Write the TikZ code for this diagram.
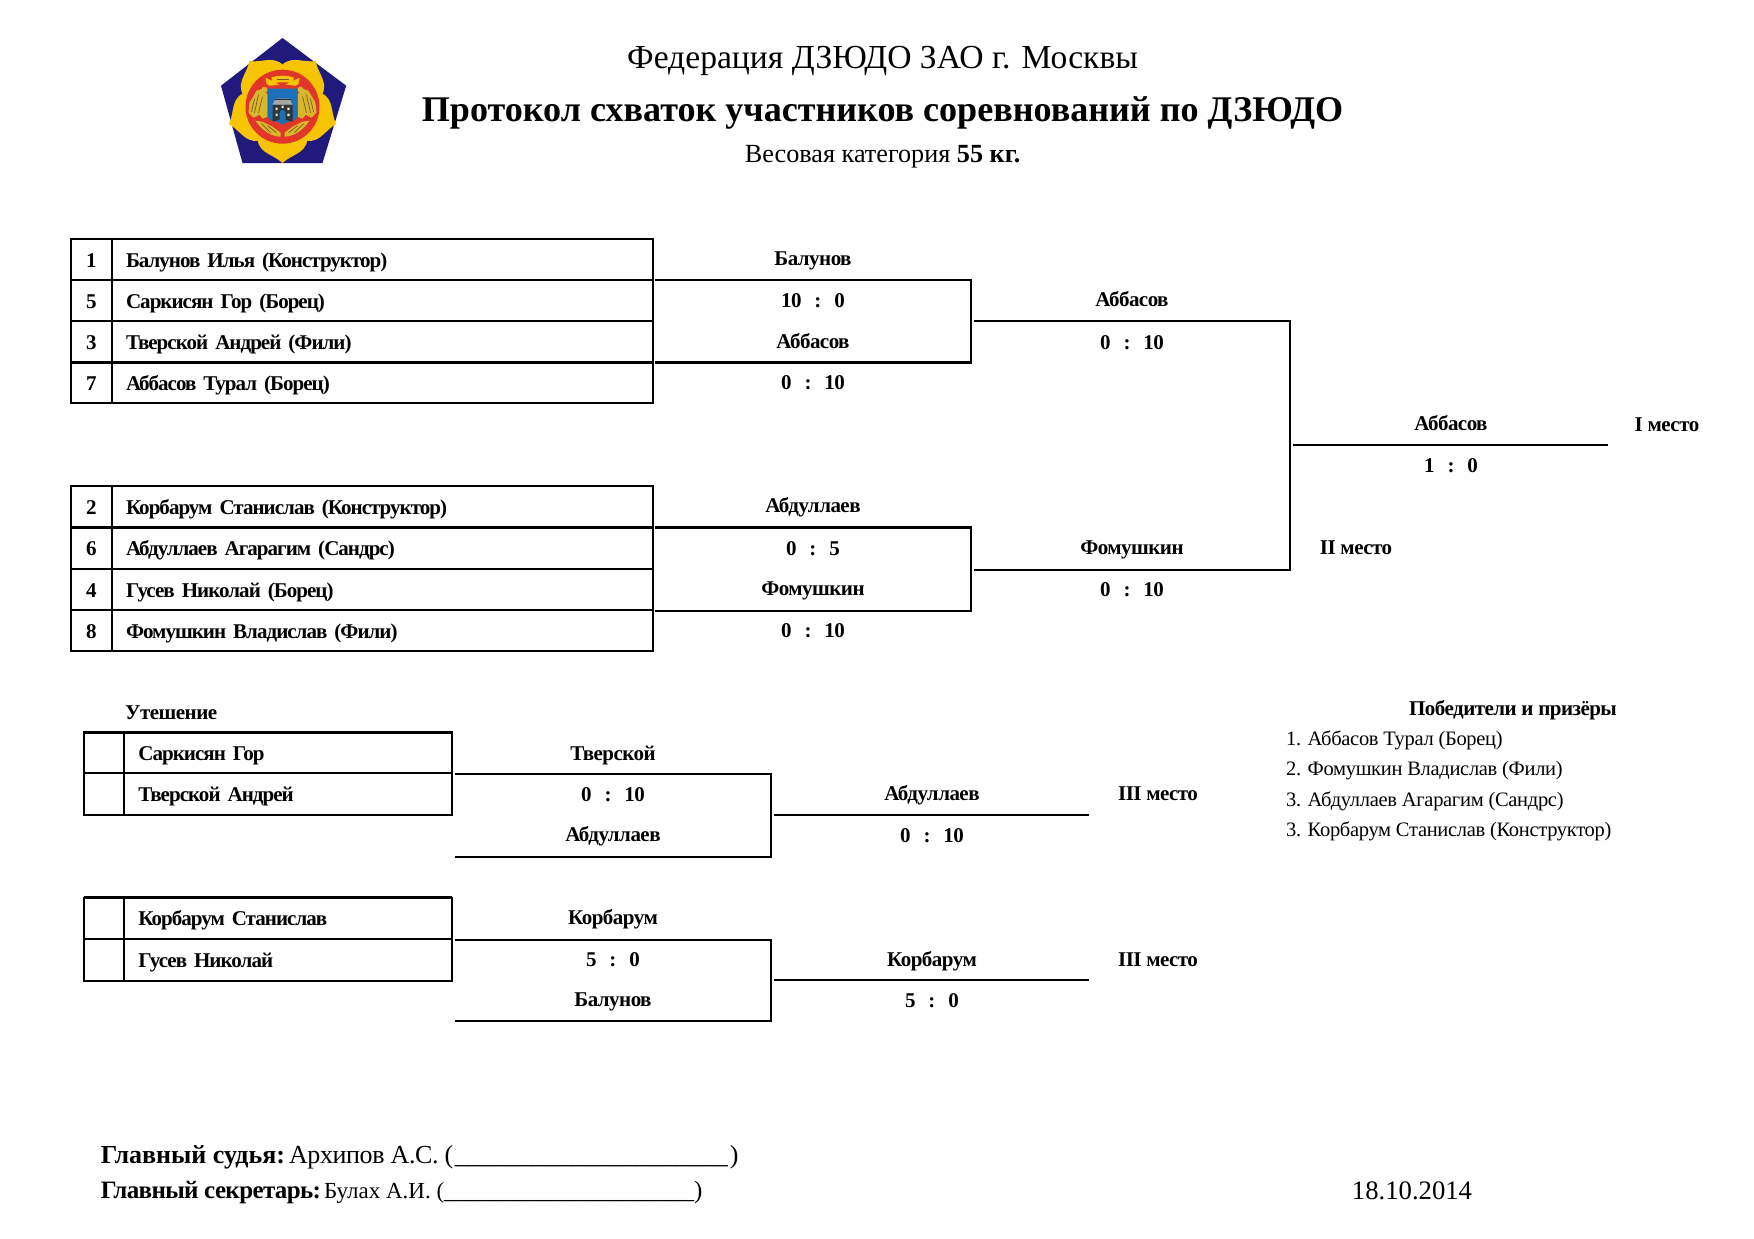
\documentclass[tikz,border=0pt]{standalone}
\usepackage{fontspec}
\setmainfont{Liberation Serif}
\newfontfamily\tightA[LetterSpace=-4.6]{Liberation Serif}
\newfontfamily\tightB[LetterSpace=-2.5]{Liberation Serif}
\newfontfamily\tightC[LetterSpace=-1.5]{Liberation Serif}
\newcommand{\fsz}[1]{\fontsize{#1pt}{#1pt}\selectfont}
\tikzset{
 lbl/.style={inner sep=0pt,yshift=-2.2pt,font=\tightB\fsz{21}\bfseries,text height=14pt,text depth=4pt},
 numcell/.style={draw,line width=2pt,outer sep=0pt,anchor=north west,inner sep=0pt,font=\fsz{21}\bfseries,text height=16pt,text depth=1pt},
 namecell/.style={draw,line width=2pt,outer sep=0pt,anchor=north west,inner ysep=0pt,inner xsep=14pt,align=left,font=\tightA\fsz{21}\bfseries,text height=16pt,text depth=1pt},
 wire/.style={line width=2pt,line cap=rect,line join=miter},
 heavy/.style={line width=3pt},
 win/.style={inner sep=0pt,yshift=-2.2pt,anchor=west,font=\tightC\fsz{20.5},text height=14pt,text depth=4pt},
}
\definecolor{lnavy}{HTML}{1F1A7C}
\definecolor{lyellow}{HTML}{F7C404}
\definecolor{lred}{HTML}{E0372A}
\definecolor{lblue}{HTML}{1C70B8}
\definecolor{lolive}{HTML}{D8B82A}
\definecolor{lbrown}{HTML}{7A5A20}
\begin{document}
\begin{tikzpicture}[x=1pt,y=-1pt]
\useasboundingbox (0,0) rectangle (1754,1239);
% logo
\begin{scope}[shift={(282.5,106.7)}]
 \fill[lnavy] (0,-68.7) -- (63.7,-21) -- (40,56.3) -- (-40,56.3) -- (-61.5,-21) -- cycle;
 \foreach \a in {0,72,144,216,288}{
  \fill[lyellow,rotate=\a] (-25,26) .. controls (-27,47) and (-11,46) .. (0,56.3) .. controls (11,46) and (27,47) .. (25,26) -- (0,0) -- cycle;
 }
 \fill[lyellow] (0,0) circle (41);
 \fill[lred] (0,0) circle (37);
 % eagles
 \foreach \s in {-1,1}{
  \begin{scope}[xscale=\s]
   \fill[lolive] (15,-12) -- (20,-18) -- (26,-16) -- (33,-4) -- (34,6) -- (29,11) -- (23,8) -- (20,12) -- (15,10) -- cycle;
   \draw[lbrown,line width=0.7pt] (20,-10) -- (24,6) (24,-12) -- (28,6) (28,-8) -- (31,5);
   \fill[lolive] (18,-17) circle (3);
   \fill[lyellow] (3,-22) -- (17,-29) -- (16,-23) -- (13,-21) -- cycle;
   \fill[lolive] (2,30) .. controls (12,30) and (22,22) .. (27,14) -- (20,15) -- (10,20) -- (2,26) -- cycle;
   \draw[lbrown,line width=0.7pt] (6,26) -- (15,19) (12,26) -- (21,17);
  \end{scope}
 }
 \fill[lyellow] (-11,-29.5) .. controls (-4,-31.5) and (4,-31.5) .. (11,-29.5) -- (11,-23) .. controls (4,-25) and (-4,-25) .. (-11,-23) -- cycle;
 \draw[lbrown,line width=0.6pt] (-6,-27.5) -- (6,-27.5);
 % shield
 \fill[lblue] (-15,-18) -- (15,-18) -- (15,9) .. controls (15,15) and (4,14) .. (0,18) .. controls (-4,14) and (-15,15) .. (-15,9) -- cycle;
 % castle
 \fill[black!80] (-10,-2) -- (-10,15) -- (-3,13) -- (-3,6) .. controls (-3,2) and (3,2) .. (3,6) -- (3,13) -- (10,15) -- (10,-2) -- cycle;
 \fill[black!35] (-10,-2) -- (-7,-8) -- (7,-8) -- (10,-2) -- cycle;
 \fill[black!80] (-8,-8) rectangle (8,-6.5);
 \fill[white!85!lblue] (-7,1) rectangle (-4.8,3.5) (4.8,1) rectangle (7,3.5) (-7,7) rectangle (-4.8,9.5) (4.8,7) rectangle (7,9.5) (-1,-1) rectangle (1,1.5);
\end{scope}
% header
\node[inner sep=0pt,font=\fsz{33.6}] (h1) at (882.6,61.4) {Федерация ДЗЮДО ЗАО г. Москвы};
\node[inner sep=0pt,font=\fsz{36.1}\bfseries] (h2) at (882.6,112.5) {Протокол схваток участников соревнований по ДЗЮДО};
\node[inner sep=0pt,font=\fsz{26.2}] (h3) at (882.6,157) {Весовая категория \textbf{55 кг.}};
% main tables
\foreach \id/\yy/\hh/\n/\t in {a/239/41/1/Балунов Илья (Конструктор),b/280/41/5/Саркисян Гор (Борец),c/321/41.3/3/Тверской Андрей (Фили),d/362.3/41/7/Аббасов Турал (Борец),
  e/485.7/42/2/Корбарум Станислав (Конструктор),f/527.7/41.3/6/Абдуллаев Агарагим (Сандрс),g/569/41/4/Гусев Николай (Борец),h/610/41/8/Фомушкин Владислав (Фили)}{
 \node[numcell,minimum width=41.3pt,minimum height=\hh pt] (n\id) at (70.7,\yy) {\n};
 \node[namecell,minimum height=\hh pt,text width=512.7pt] (m\id) at (112,\yy) {\t};
}
% consolation tables
\foreach \id/\yy/\hh/\t in {p/732.3/41/Саркисян Гор,q/773.3/41.4/Тверской Андрей,r/897.5/41.5/Корбарум Станислав,s/939/41.5/Гусев Николай}{
 \node[numcell,minimum width=40.3pt,minimum height=\hh pt] (n\id) at (84,\yy) {};
 \node[namecell,minimum height=\hh pt,text width=299.7pt] (m\id) at (124.3,\yy) {\t};
}
\draw[heavy] (nd.north west) -- (md.north east);
\draw[heavy] (nf.north west) -- (mf.north east);
\draw[heavy] (np.north west) -- (mp.north east);
\draw[heavy] (nr.north west) -- (mr.north east);
% bracket coordinates
\foreach \n/\x/\y in {A1/656/280,A2/970.7/280,A3/970.7/362.3,A4/656/362.3,
 B1/656/527.7,B2/970.7/527.7,B3/970.7/610.5,B4/656/610.5,
 C1/975/320.7,C2/1290/320.7,C3/1290/569.5,C4/975/569.5,F1/1294/445,F2/1607/445,
 D1/456/774,D2/771/774,D3/771/857,D4/456/857,D5/775/815,D6/1088/815,
 E1/456/939.5,E2/771/939.5,E3/771/1021,E4/456/1021,E5/775/980,E6/1088/980}{
 \coordinate (\n) at (\x,\y);
}
\draw[wire] (A1)--(A2)--(A3);
\draw[wire,heavy] (A3)--(A4);
\draw[wire,heavy] (B1)--(B2);
\draw[wire] (B2)--(B3)--(B4);
\draw[wire] (C1)--(C2)--(C3)--(C4);
\draw[wire] (F1)--(F2);
\draw[wire] (D1)--(D2)--(D3)--(D4);
\draw[wire] (D5)--(D6);
\draw[wire] (E1)--(E2)--(E3)--(E4);
\draw[wire] (E5)--(E6);
% labels
\foreach \id/\x/\y/\t in {
 l1/813/258/Балунов,l2/813/300/10\ \ \,:\ \ \,0,l3/813/341/Аббасов,l4/813/382.5/0\ \ \,:\ \ \,10,
 l5/1132/299/Аббасов,l6/1132/342/0\ \ \,:\ \ \,10,
 l7/1451/423/Аббасов,l8/1451/465/1\ \ \,:\ \ \,0,l9/1667/424/I место,l10/1356/547/II место,
 l11/813/505.6/Абдуллаев,l12/813/548/0\ \ \,:\ \ \,5,l13/813/588/Фомушкин,l14/813/630/0\ \ \,:\ \ \,10,
 l15/1132/547/Фомушкин,l16/1132/589.5/0\ \ \,:\ \ \,10,
 l17/613/753/Тверской,l18/613/794/0\ \ \,:\ \ \,10,l19/613/834.5/Абдуллаев,
 l20/932/793/Абдуллаев,l21/932/835.6/0\ \ \,:\ \ \,10,l22/1158/793/III место,
 l23/613/917/Корбарум,l24/613/959/5\ \ \,:\ \ \,0,l25/613/999/Балунов,
 l26/932/959/Корбарум,l27/932/1000/5\ \ \,:\ \ \,0,l28/1158/959/III место}{
 \node[lbl] (\id) at (\x,\y) {\t};
}
\node[lbl,anchor=west] (ut) at (125,712.5) {Утешение};
\node[lbl] (wt) at (1513,708) {Победители и призёры};
\node[win] (w1) at (1286,738) {1. Аббасов Турал (Борец)};
\node[win] (w2) at (1286,768.5) {2. Фомушкин Владислав (Фили)};
\node[win] (w3) at (1286,799) {3. Абдуллаев Агарагим (Сандрс)};
\node[win] (w4) at (1286,829) {3. Корбарум Станислав (Конструктор)};
% footer
\node[inner sep=0pt,anchor=base west,font=\fsz{26}] (s1) at (100.7,1163) {\textbf{Главный судья:}\hspace{4pt}{\tightC Архипов А.С. (}\hspace{1.5pt}\_\_\_\_\_\_\_\_\_\_\_\_\_\_\_\_\_\_\_\_\_\hspace{2pt})};
\node[inner sep=0pt,anchor=base west,font=\fsz{25}] (s2) at (100.7,1198) {{\tightB\bfseries Главный секретарь:}\hspace{3pt}{\fsz{23}Булах А.И. (}\_\_\_\_\_\_\_\_\_\_\_\_\_\_\_\_\_\_\_\_)};
\node[inner sep=0pt,anchor=base,font=\fsz{26.7}] (dt) at (1412,1199) {18.10.2014};
\end{tikzpicture}
\end{document}
